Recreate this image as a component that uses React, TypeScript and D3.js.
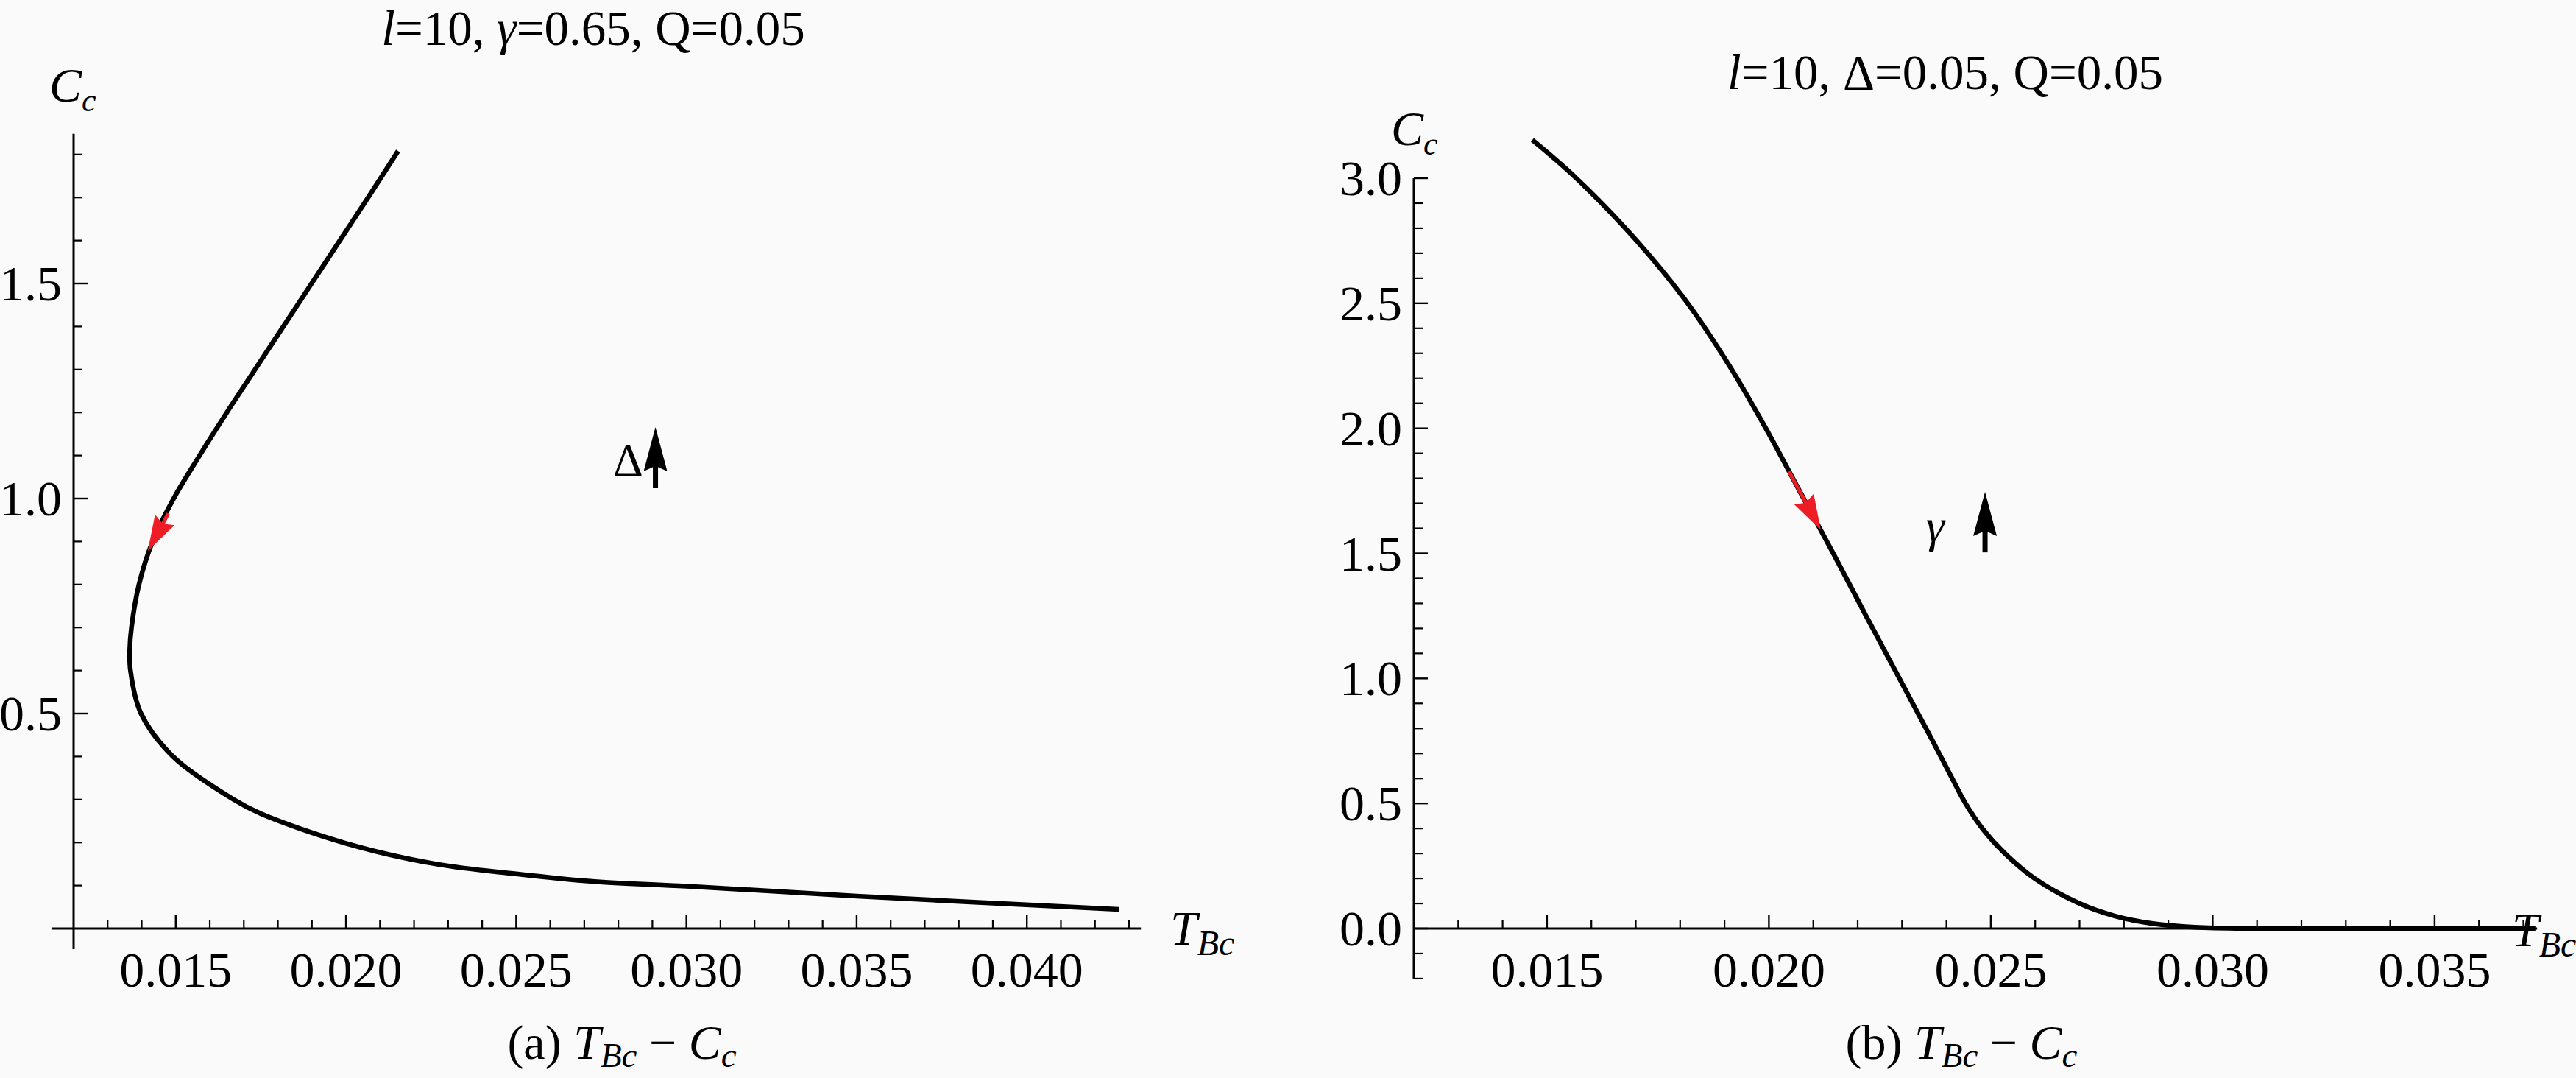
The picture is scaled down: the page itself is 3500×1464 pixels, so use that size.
import * as d3 from "d3";

// panel (a): l=10, gamma=0.65, Q=0.05  (curve, top end first)
const curveAT = [0.02153, 0.02065, 0.01982, 0.01899, 0.01816, 0.01733, 0.0165, 0.0157, 0.01494, 0.01432, 0.01392, 0.0137, 0.01365, 0.01367, 0.01398, 0.01492, 0.0167, 0.0175, 0.02, 0.02265, 0.025, 0.02724, 0.03, 0.035, 0.0427];
const curveAC = [1.808, 1.7, 1.6, 1.5, 1.4, 1.3, 1.2, 1.1, 1.0, 0.9, 0.8, 0.7, 0.65, 0.6, 0.5, 0.4, 0.3, 0.267, 0.198, 0.15, 0.127, 0.1096, 0.0984, 0.0755, 0.0445];

// panel (b): l=10, Delta=0.05, Q=0.05
const curveBT = [0.01467, 0.01566, 0.01702, 0.01817, 0.01911, 0.01993, 0.02069, 0.02145, 0.02219, 0.02294, 0.02369, 0.02413, 0.02443, 0.02481, 0.02532, 0.02599, 0.027, 0.0278, 0.02865, 0.0296, 0.0311, 0.0335, 0.03727];
const curveBC = [3.153, 3.0, 2.75, 2.5, 2.25, 2.0, 1.75, 1.5, 1.25, 1.0, 0.75, 0.6, 0.5, 0.4, 0.3, 0.2, 0.1, 0.05, 0.02, 0.005, 0.0, 0.0, 0.0];

const xMajorA = [0.015, 0.02, 0.025, 0.03, 0.035, 0.04];
const xLabelsA = ["0.015", "0.020", "0.025", "0.030", "0.035", "0.040"];
const yMajorA = [0.5, 1.0, 1.5];
const yLabelsA = ["0.5", "1.0", "1.5"];

const xMajorB = [0.015, 0.02, 0.025, 0.03, 0.035];
const xLabelsB = ["0.015", "0.020", "0.025", "0.030", "0.035"];
const yMajorB = [0.0, 0.5, 1.0, 1.5, 2.0, 2.5, 3.0];
const yLabelsB = ["0.0", "0.5", "1.0", "1.5", "2.0", "2.5", "3.0"];

// annotation arrows [from, to] in data units
const redArrowA = [[0.01478, 0.965], [0.01418, 0.878]];
const blackArrowA = [[0.02909, 1.024], [0.02909, 1.166]];
const deltaLabelA = [0.02784, 1.051];
const redArrowB = [[0.02045, 1.828], [0.02117, 1.593]];
const blackArrowB = [[0.02487, 1.504], [0.02487, 1.746]];
const gammaLabelB = [0.02354, 1.548];

const FONT = "'Liberation Serif', 'Times New Roman', serif";
const RED = "#ee1c25";

const milli = (a: number, b: number) => d3.range(a, b + 1).map((v) => v / 1000);
const tenth = (a: number, b: number) => d3.range(a, b + 1).map((v) => v / 10);

function Arrow({ p0, p1, color, head, half, width }: any) {
  const dx = p1[0] - p0[0];
  const dy = p1[1] - p0[1];
  const len = Math.hypot(dx, dy);
  const ux = dx / len;
  const uy = dy / len;
  const bx = p1[0] - ux * head;
  const by = p1[1] - uy * head;
  const pts = [
    [p1[0], p1[1]],
    [bx - uy * half, by + ux * half],
    [bx + ux * head * 0.12, by + uy * head * 0.12],
    [bx + uy * half, by - ux * half],
  ];
  return (
    <g>
      <line x1={p0[0]} y1={p0[1]} x2={bx + ux * head * 0.2} y2={by + uy * head * 0.2} stroke={color} strokeWidth={width} />
      <polygon points={pts.map((p) => p.join(",")).join(" ")} fill={color} />
    </g>
  );
}

function Panel({ cfg }: any) {
  const x = d3.scaleLinear().domain(cfg.xDomain).range(cfg.xRange);
  const y = d3.scaleLinear().domain(cfg.yDomain).range(cfg.yRange);
  const pts = cfg.curveT.map((t: number, i: number) => [t, cfg.curveC[i]]);
  const line = d3
    .line<number[]>()
    .x((d) => x(d[0]))
    .y((d) => y(d[1]))
    .curve(d3.curveCatmullRom.alpha(0.5));
  const x0 = x(cfg.yAxisAt);
  const y0 = y(0);
  const xMinor = cfg.xMinor.filter((v: number) => !cfg.xMajor.some((m: number) => Math.abs(m - v) < 1e-7));
  const yMinor = cfg.yMinor.filter((v: number) => !cfg.yMajor.some((m: number) => Math.abs(m - v) < 1e-7));
  const px = (p: number[]) => [x(p[0]), y(p[1])];
  return (
    <g fontFamily={FONT} fill="#000">
      {/* axes */}
      <line x1={x(cfg.xAxisExtent[0])} x2={x(cfg.xAxisExtent[1])} y1={y0} y2={y0} stroke="#000" strokeWidth={3.2} />
      <line x1={x0} x2={x0} y1={y(cfg.yAxisExtent[0])} y2={y(cfg.yAxisExtent[1])} stroke="#000" strokeWidth={3} />
      {cfg.xMajor.map((v: number, i: number) => (
        <g key={"xM" + i}>
          <line x1={x(v)} x2={x(v)} y1={y0} y2={y0 - 19} stroke="#000" strokeWidth={2.4} />
          <text x={x(v)} y={y0 + 79} fontSize={68} textAnchor="middle">
            {cfg.xLabels[i]}
          </text>
        </g>
      ))}
      {xMinor.map((v: number, i: number) => (
        <line key={"xm" + i} x1={x(v)} x2={x(v)} y1={y0} y2={y0 - 12} stroke="#000" strokeWidth={2.2} />
      ))}
      {cfg.yMajor.map((v: number, i: number) => (
        <g key={"yM" + i}>
          <line x1={x0} x2={x0 + 19} y1={y(v)} y2={y(v)} stroke="#000" strokeWidth={2.4} />
          <text x={x0 - 16} y={y(v) + 23} fontSize={68} textAnchor="end">
            {cfg.yLabels[i]}
          </text>
        </g>
      ))}
      {yMinor.map((v: number, i: number) => (
        <line key={"ym" + i} x1={x0} x2={x0 + 12} y1={y(v)} y2={y(v)} stroke="#000" strokeWidth={2.2} />
      ))}

      {/* curve */}
      <path d={line(pts) || ""} fill="none" stroke="#000" strokeWidth={6.5} strokeLinejoin="round" />

      {/* annotations */}
      <Arrow p0={px(cfg.redArrow[0])} p1={px(cfg.redArrow[1])} color={RED} head={48} half={15} width={5} />
      <Arrow p0={px(cfg.blackArrow[0])} p1={px(cfg.blackArrow[1])} color="#000" head={60} half={16} width={7} />
      <text x={px(cfg.symbolAt)[0]} y={px(cfg.symbolAt)[1]} fontSize={64} fontStyle={cfg.symbolItalic ? "italic" : "normal"}>
        {cfg.symbol}
      </text>

      {/* axis labels */}
      <text x={cfg.cLabel[0]} y={cfg.cLabel[1]} fontSize={66} fontStyle="italic">
        C<tspan fontSize={44} dy={13}>c</tspan>
      </text>
      <text x={cfg.tLabel[0]} y={cfg.tLabel[1]} fontSize={66} fontStyle="italic">
        T<tspan fontSize={48} dy={14}>Bc</tspan>
      </text>

      {/* title */}
      <text x={cfg.title[0]} y={cfg.title[1]} fontSize={67} textAnchor="middle">
        <tspan fontStyle="italic">l</tspan>=10, {cfg.titleMid}
      </text>

      {/* caption */}
      <text x={cfg.caption[0]} y={cfg.caption[1]} fontSize={66} textAnchor="middle">
        {cfg.captionTag} <tspan fontStyle="italic">T</tspan>
        <tspan fontStyle="italic" fontSize={47} dy={11}>Bc</tspan>
        <tspan dy={-11}> − </tspan>
        <tspan fontStyle="italic">C</tspan>
        <tspan fontStyle="italic" fontSize={47} dy={11}>c</tspan>
      </text>
    </g>
  );
}

export default function App() {
  const panelA = {
    xDomain: [0.012, 0.043],
    xRange: [100, 1534],
    yDomain: [0, 1.8],
    yRange: [1261, 209.8],
    yAxisAt: 0.012,
    xAxisExtent: [0.01135, 0.04335],
    yAxisExtent: [-0.048, 1.848],
    xMajor: xMajorA,
    xLabels: xLabelsA,
    xMinor: milli(13, 43),
    yMajor: yMajorA,
    yLabels: yLabelsA,
    yMinor: tenth(1, 18),
    curveT: curveAT,
    curveC: curveAC,
    redArrow: redArrowA,
    blackArrow: blackArrowA,
    symbolAt: deltaLabelA,
    symbol: "Δ",
    symbolItalic: false,
    cLabel: [67, 138],
    tLabel: [1590, 1283],
    title: [806, 61],
    titleMid: (
      <>
        <tspan fontStyle="italic">γ</tspan>=0.65, Q=0.05
      </>
    ),
    caption: [845, 1438],
    captionTag: "(a)",
  };
  const panelB = {
    xDomain: [0.012, 0.037],
    xRange: [1921, 3428.5],
    yDomain: [0, 3],
    yRange: [1261, 242],
    yAxisAt: 0.012,
    xAxisExtent: [0.012, 0.03731],
    yAxisExtent: [-0.2, 3.0],
    xMajor: xMajorB,
    xLabels: xLabelsB,
    xMinor: milli(13, 37),
    yMajor: yMajorB,
    yLabels: yLabelsB,
    yMinor: tenth(-2, 29),
    curveT: curveBT,
    curveC: curveBC,
    redArrow: redArrowB,
    blackArrow: blackArrowB,
    symbolAt: gammaLabelB,
    symbol: "γ",
    symbolItalic: true,
    cLabel: [1890, 197],
    tLabel: [3413, 1285],
    title: [2643, 121],
    titleMid: <>Δ=0.05, Q=0.05</>,
    caption: [2665, 1438],
    captionTag: "(b)",
  };
  return (
    <div style={{ position: "absolute", left: 0, top: 0, width: 3500, height: 1464 }}>
      <svg width={3500} height={1464} viewBox="0 0 3500 1464" style={{ display: "block" }}>
        <rect width={3500} height={1464} fill="#fafafa" />
        <Panel cfg={panelA} />
        <Panel cfg={panelB} />
      </svg>
    </div>
  );
}
